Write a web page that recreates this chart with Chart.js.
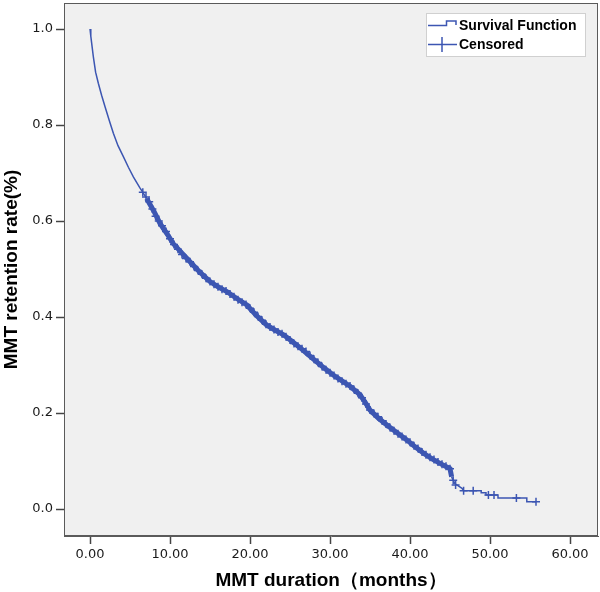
<!DOCTYPE html>
<html>
<head>
<meta charset="utf-8">
<script src="https://cdn.jsdelivr.net/npm/chart.js@4.4.1/dist/chart.umd.min.js"></script>
<style>
  html, body { margin: 0; padding: 0; background: #fff; }
  #wrap { width: 600px; height: 592px; position: relative; }
</style>
</head>
<body>
<div id="wrap"><canvas id="kmChart"></canvas></div>
<script>
// Kaplan-Meier estimate (months, proportion retained)
const survTime = [0, 0.1, 0.42, 0.7, 1.04, 1.45, 1.88, 2.4, 2.92, 3.5, 4.17, 4.8, 5.42, 6.2, 7.08, 8.0, 8.75,
  9.6, 10.4, 11.5, 12.5, 13.7, 15.0, 16.0, 17.1, 18.3, 19.6, 20.8, 22.1, 23.1, 24.2, 25.2,
  26.25, 27.3, 28.3, 29.4, 30.4, 31.5, 32.5, 33.75, 34.4, 35.0, 36.0, 37.1, 38.3, 39.6, 40.6, 41.7, 42.7, 43.75, 45.0, 45.2, 45.6, 46.5, 46.7,
  48.9, 48.9, 49.5, 49.5, 51.0, 51.0, 54.6, 54.6, 55.75];
const survRate = [1.0, 0.985, 0.942, 0.91, 0.887, 0.862, 0.838, 0.81, 0.783, 0.757, 0.734, 0.712, 0.692, 0.67, 0.647, 0.62, 0.595,
  0.574, 0.553, 0.533, 0.515, 0.494, 0.474, 0.463, 0.453, 0.439, 0.425, 0.403, 0.383, 0.373, 0.363, 0.350,
  0.336, 0.321, 0.307, 0.292, 0.279, 0.267, 0.256, 0.238, 0.222, 0.206, 0.190, 0.175, 0.160, 0.144, 0.130, 0.116, 0.105, 0.095, 0.084, 0.067, 0.053, 0.043, 0.038,
  0.038, 0.034, 0.034, 0.029, 0.029, 0.023, 0.023, 0.015, 0.015];

// censored observations (+ marks)
const censTime = [6.6, 7.0, 7.4, 7.8, 8.2, 8.6, 9.0, 9.5, 10.0, 10.5, 11.0, 11.5, 12.0, 12.5, 13.0, 13.5,
  14.0, 14.5, 15.0, 15.5, 16.0, 16.5, 17.0, 17.5, 18.0, 18.5, 19.0, 19.5, 20.0, 20.5, 21.0, 21.5,
  22.0, 22.5, 23.0, 23.5, 24.0, 24.5, 25.0, 25.5, 26.0, 26.5, 27.0, 27.5, 28.0, 28.5, 29.0, 29.5,
  30.0, 30.5, 31.0, 31.5, 32.0, 32.5, 33.0, 33.5, 34.0, 34.5, 35.0, 35.5, 36.0, 36.5, 37.0, 37.5,
  38.0, 38.5, 39.0, 39.5, 40.0, 40.5, 41.0, 41.5, 42.0, 42.5, 43.0, 43.5, 44.0, 44.5, 45.0, 45.4,
  45.7, 46.7, 47.9, 49.8, 50.5, 53.3, 55.75];
const censRate = [0.660, 0.650, 0.640, 0.625, 0.610, 0.600, 0.590, 0.578, 0.563, 0.551, 0.541, 0.530, 0.522, 0.515, 0.505, 0.497,
  0.489, 0.481, 0.474, 0.468, 0.463, 0.458, 0.454, 0.448, 0.442, 0.436, 0.431, 0.426, 0.418, 0.410, 0.401, 0.393,
  0.385, 0.379, 0.374, 0.369, 0.365, 0.359, 0.352, 0.345, 0.339, 0.334, 0.328, 0.320, 0.312, 0.305, 0.297, 0.290,
  0.284, 0.278, 0.272, 0.266, 0.261, 0.256, 0.249, 0.241, 0.232, 0.219, 0.206, 0.199, 0.192, 0.184, 0.177, 0.170,
  0.163, 0.157, 0.151, 0.145, 0.139, 0.132, 0.126, 0.119, 0.113, 0.108, 0.103, 0.098, 0.093, 0.089, 0.084, 0.060,
  0.050, 0.038, 0.038, 0.029, 0.029, 0.023, 0.015];

const xTicks = [0, 10, 20, 30, 40, 50, 60];
const yTicks = [0, 0.2, 0.4, 0.6, 0.8, 1.0];

const LINE_BLUE = '#3c56b2';
const TICK_FONT = { family: 'DejaVu Sans', size: 13 };
const TITLE_FONT = { family: 'Liberation Sans, Arial', size: 19, weight: 'bold' };

// grey plot panel + white page + full frame
const panelPlugin = {
  id: 'panel',
  beforeDraw(chart) {
    const { ctx, chartArea: a } = chart;
    ctx.save();
    ctx.fillStyle = '#fff';
    ctx.fillRect(0, 0, chart.width, chart.height);
    ctx.fillStyle = '#f0f0f0';
    ctx.fillRect(a.left, a.top, a.right - a.left, a.bottom - a.top);
    ctx.restore();
  },
  afterDraw(chart) {
    const { ctx, chartArea: a } = chart;
    ctx.save();
    ctx.strokeStyle = '#5a5a5a';
    ctx.lineWidth = 1;
    ctx.strokeRect(Math.round(a.left) + 0.5, Math.round(a.top) + 0.5,
      Math.round(a.right - a.left) - 1, Math.round(a.bottom - a.top) - 1);
    ctx.restore();
  }
};

// SPSS-style legend box in the top right corner
const kmLegend = {
  id: 'kmLegend',
  afterDraw(chart) {
    const ctx = chart.ctx;
    const ds = chart.data.datasets;
    ctx.save();
    ctx.fillStyle = '#fff';
    ctx.fillRect(426, 13, 160, 44);
    ctx.strokeStyle = '#d0d0d0';
    ctx.lineWidth = 1;
    ctx.strokeRect(426.5, 13.5, 159, 43);

    ctx.strokeStyle = LINE_BLUE;
    ctx.lineWidth = 1.5;
    ctx.beginPath();
    ctx.moveTo(428, 25.5);
    ctx.lineTo(446.5, 25.5);
    ctx.lineTo(446.5, 21);
    ctx.lineTo(456, 21);
    ctx.lineTo(456, 25);
    ctx.stroke();

    ctx.beginPath();
    ctx.moveTo(428, 44.5);
    ctx.lineTo(457, 44.5);
    ctx.moveTo(442, 37);
    ctx.lineTo(442, 52);
    ctx.stroke();

    ctx.fillStyle = '#000';
    ctx.font = 'bold 14px "Liberation Sans", Arial';
    ctx.textBaseline = 'middle';
    ctx.fillText(ds[0].label, 459, 26);
    ctx.fillText(ds[1].label, 459, 45.5);
    ctx.restore();
  }
};

// the curve is a dense band of censor marks between about 6.5 and 45 months
const bandWidth = (c) => (c.p0.parsed.x >= 6.5 && c.p1.parsed.x <= 45.2 ? 5 : 1.5);

new Chart(document.getElementById('kmChart'), {
  type: 'line',
  data: {
    datasets: [{
      label: 'Survival Function',
      data: survTime.map((t, i) => ({ x: t, y: survRate[i] })),
      borderColor: LINE_BLUE,
      borderWidth: 1.5,
      segment: { borderWidth: bandWidth },
      pointRadius: 0,
      tension: 0,
      fill: false,
    }, {
      label: 'Censored',
      data: censTime.map((t, i) => ({ x: t, y: censRate[i] })),
      showLine: false,
      pointStyle: 'cross',
      pointRadius: 4,
      pointBorderWidth: 1.5,
      pointBorderColor: LINE_BLUE,
      pointBackgroundColor: LINE_BLUE,
    }],
  },
  options: {
    responsive: true,
    maintainAspectRatio: false,
    animation: false,
    layout: { autoPadding: false, padding: { top: 3, right: 2, left: 0, bottom: 0 } },
    plugins: {
      legend: { display: false },
      tooltip: { enabled: false },
    },
    scales: {
      x: {
        type: 'linear',
        min: -3.25,
        max: 63.5,
        afterBuildTicks: (s) => { s.ticks = xTicks.map(v => ({ value: v })); },
        afterFit: (s) => { s.height = 56; s.paddingLeft = 0; s.paddingRight = 0; },
        ticks: {
          color: '#1a1a1a',
          font: TICK_FONT,
          padding: 3,
          maxRotation: 0,
          callback: (v) => Number(v).toFixed(2),
        },
        grid: { drawOnChartArea: false, drawTicks: true, tickLength: 8, tickColor: '#444', tickWidth: 1.5 },
        border: { display: true, color: '#5a5a5a' },
        title: {
          display: true,
          text: 'MMT duration（months）',
          color: '#000',
          font: TITLE_FONT,
          padding: { top: 0, bottom: 0 },
        },
      },
      y: {
        min: -0.05625,
        max: 1.0542,
        afterBuildTicks: (s) => { s.ticks = yTicks.map(v => ({ value: v })); },
        afterFit: (s) => { s.width = 64; s.paddingTop = 0; s.paddingBottom = 0; },
        ticks: {
          color: '#1a1a1a',
          font: TICK_FONT,
          padding: 3,
          callback: (v) => Number(v).toFixed(1),
        },
        grid: { drawOnChartArea: false, drawTicks: true, tickLength: 8, tickColor: '#444', tickWidth: 1.5 },
        border: { display: true, color: '#5a5a5a' },
        title: {
          display: true,
          text: 'MMT retention rate(%)',
          color: '#000',
          font: TITLE_FONT,
          padding: { top: 0, bottom: 0 },
        },
      },
    },
  },
  plugins: [panelPlugin, kmLegend],
});
</script>
</body>
</html>
